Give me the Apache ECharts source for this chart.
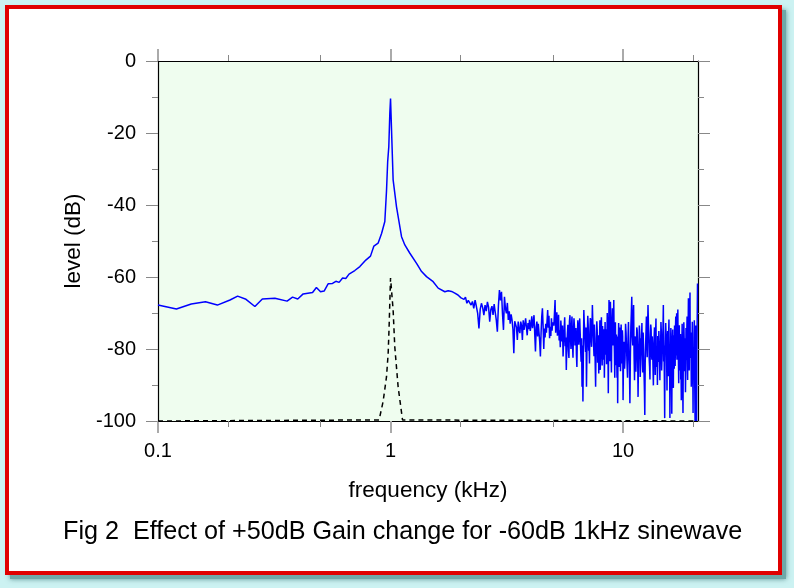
<!DOCTYPE html>
<html>
<head>
<meta charset="utf-8">
<script src="https://cdn.jsdelivr.net/npm/echarts@6/dist/echarts.min.js"></script>
<style>
html,body{margin:0;padding:0;background:#ccf2f2;}
#chart{width:794px;height:588px;}
</style>
</head>
<body>
<div id="chart"></div>
<script>
// ---- data ----
const titleText = 'Fig 2  Effect of +50dB Gain change for -60dB 1kHz sinewave';
const xName = 'frequency (kHz)';
const yName = 'level (dB)';
const xMajorTicks = [0.1, 1, 10];
const xMinorTicks = [0.2, 0.5, 2, 5, 20];

// low-frequency part and the 1 kHz peak (explicit frequency / level pairs)
const peakFreq = [0.100,0.120,0.139,0.160,0.180,0.204,0.220,0.239,0.261,0.281,0.318,0.359,0.379,0.399,0.421,0.462,0.480,0.500,0.518,0.539,0.563,0.582,0.601,0.622,0.642,0.663,0.702,0.738,0.783,0.820,0.848,0.884,0.915,0.945,0.961,0.972,0.983,0.993,1.000,1.010,1.026,1.061,1.115,1.152,1.211,1.294,1.360,1.428,1.525,1.603,1.712,1.770];
const peakLevel = [-67.8,-68.9,-67.5,-66.9,-67.8,-66.4,-65.3,-66.2,-68.2,-66.1,-65.9,-66.7,-65.6,-66.1,-64.7,-64.3,-62.9,-64.1,-63.9,-61.9,-61.8,-61.2,-61.5,-60.3,-60.4,-59.2,-58.2,-57.1,-55.3,-54.2,-51.4,-50.6,-47.9,-44.6,-36.0,-28.0,-23.8,-14.5,-10.4,-19.2,-33.0,-40.5,-48.8,-51.1,-53.4,-56.2,-58.5,-59.9,-61.3,-63.1,-64.1,-63.8];

// FFT bins 1.80 .. 4.98 kHz (bin spacing 0.03 kHz)
const binsA_start = 1.80, binsA_step = 0.03;
const binsA_level = [-63.8,-64.0,-63.6,-64.5,-64.2,-65.0,-64.6,-65.8,-65.3,-66.2,-65.6,-67.3,-66.5,-66.0,-67.8,-66.8,-68.7,-66.4,-68.2,-70.1,-74.3,-69.0,-67.3,-68.5,-70.6,-67.8,-69.5,-66.9,-68.4,-72.4,-69.0,-68.1,-70.5,-67.5,-69.8,-72.0,-75.2,-68.0,-63.6,-66.5,-64.1,-70.2,-74.7,-65.5,-68.8,-70.1,-67.2,-71.9,-69.5,-73.0,-70.4,-71.9,-74.5,-81.2,-72.3,-71.9,-74.0,-77.5,-72.4,-74.8,-75.6,-72.4,-73.5,-77.5,-72.0,-74.7,-73.2,-71.5,-74.0,-76.2,-72.8,-74.5,-71.9,-75.0,-73.3,-70.9,-74.2,-72.6,-70.6,-75.8,-80.7,-74.0,-72.4,-76.5,-73.0,-75.4,-78.0,-82.1,-75.5,-71.0,-68.7,-73.6,-80.0,-74.3,-76.8,-73.0,-75.5,-72.2,-69.2,-74.1,-70.8,-77.0,-73.8,-76.4,-71.5,-74.9,-72.6];

// FFT bins 5.04 .. 9.96 kHz (bin spacing 0.03 kHz)
const binsB_start = 5.04, binsB_step = 0.03;
const binsB_level = [-73.5,-70.0,-66.4,-75.5,-72.0,-69.8,-76.3,-73.0,-70.5,-77.6,-74.8,-79.5,-72.1,-75.0,-77.9,-73.5,-82.1,-78.0,-74.5,-71.2,-79.2,-76.8,-85.8,-79.0,-76.0,-73.3,-80.3,-82.5,-72.4,-70.6,-76.5,-80.0,-74.0,-71.0,-78.6,-82.4,-75.2,-71.5,-73.8,-79.0,-77.4,-74.2,-81.5,-85.0,-76.2,-72.0,-74.0,-78.8,-79.0,-71.5,-75.5,-80.2,-83.5,-77.0,-90.5,-79.0,-94.6,-80.5,-69.2,-72.8,-74.5,-78.5,-80.8,-74.0,-90.5,-81.0,-76.0,-70.8,-73.4,-80.5,-78.5,-84.0,-75.0,-71.4,-72.0,-77.5,-79.4,-74.5,-67.8,-72.6,-75.3,-79.0,-82.0,-73.2,-77.0,-84.5,-90.5,-80.0,-78.5,-72.3,-74.8,-83.8,-80.0,-76.2,-86.8,-79.5,-77.2,-72.0,-85.8,-80.5,-75.0,-71.2,-79.5,-84.6,-73.6,-77.0,-83.0,-74.5,-75.2,-88.0,-78.0,-72.5,-81.6,-77.8,-74.5,-84.2,-79.0,-70.0,-73.8,-80.0,-92.3,-79.2,-66.4,-73.0,-75.8,-83.4,-66.9,-71.0,-80.5,-86.5,-76.0,-73.5,-68.7,-79.0,-78.4,-72.2,-66.4,-77.0,-81.0,-88.0,-77.3,-72.6,-84.5,-79.5,-76.0,-81.8,-88.0,-76.5,-95.1,-80.2,-78.5,-72.8,-75.2,-85.0,-80.8,-74.0,-77.0,-86.2,-83.5,-73.2,-78.0,-84.0,-81.5,-74.8,-76.5];

// FFT bins 10.00 .. 20.90 kHz (bin spacing 0.05 kHz)
const binsC_start = 10.0, binsC_step = 0.05;
const binsC_level = [-94.2,-81.0,-78.0,-85.5,-82.5,-73.0,-75.5,-79.8,-84.0,-88.0,-77.2,-72.5,-80.5,-84.6,-95.1,-82.0,-74.0,-70.2,-65.5,-76.8,-79.0,-72.0,-67.8,-81.5,-88.7,-79.0,-76.5,-86.3,-82.0,-74.0,-74.8,-80.7,-93.3,-83.0,-79.5,-73.5,-76.0,-87.8,-84.2,-77.0,-78.5,-72.8,-81.8,-86.5,-75.4,-80.0,-86.0,-91.0,-98.3,-84.0,-79.0,-75.2,-71.0,-77.8,-82.3,-74.0,-67.8,-72.5,-76.0,-82.7,-84.8,-88.5,-78.2,-73.2,-74.5,-81.0,-83.0,-76.5,-79.6,-85.0,-90.1,-80.4,-77.0,-74.0,-81.5,-87.2,-75.8,-71.5,-85.0,-82.0,-79.3,-90.0,-76.4,-80.8,-83.6,-75.0,-78.0,-84.3,-88.7,-79.5,-80.2,-72.5,-75.0,-86.0,-82.8,-78.8,-77.5,-74.0,-67.8,-83.5,-79.0,-88.0,-99.2,-81.0,-80.5,-72.8,-75.6,-78.6,-84.0,-91.5,-78.3,-75.0,-82.0,-87.6,-76.0,-71.8,-86.5,-80.6,-99.2,-83.5,-80.0,-74.2,-77.0,-88.4,-98.0,-82.0,-79.5,-74.6,-83.3,-90.8,-76.2,-79.3,-85.5,-73.5,-79.0,-84.7,-74.5,-71.0,-81.8,-77.4,-70.1,-83.0,-78.4,-74.5,-69.0,-80.2,-83.0,-89.5,-77.6,-73.4,-86.0,-81.0,-80.4,-75.8,-88.5,-84.0,-94.2,-86.5,-79.0,-73.0,-84.5,-90.0,-97.8,-82.4,-80.0,-72.6,-76.5,-86.2,-82.6,-77.0,-78.0,-92.0,-85.5,-74.2,-79.2,-83.0,-75.0,-71.0,-83.4,-88.6,-77.0,-73.0,-65.9,-79.5,-80.8,-86.0,-76.3,-70.5,-64.3,-82.5,-82.0,-75.4,-78.5,-90.5,-86.8,-78.0,-79.0,-72.4,-84.0,-88.0,-97.8,-80.0,-80.5,-85.6,-76.0,-72.0,-83.5,-92.5,-100.0,-78.0,-79.0,-73.5,-85.0,-94.0,-100.0,-82.0,-76.0,-70.0,-61.8];

// input sinewave (-60 dB at 1 kHz), dashed
const sineFreq = [0.1, 0.893, 0.929, 0.961, 0.977, 0.986, 1.0, 1.026, 1.043, 1.078, 1.126, 20.9];
const sineLevel = [-100, -99.7, -94.6, -87.7, -81.1, -73.8, -60.3, -69.2, -79.4, -90.5, -99.7, -100];

// ---- build series data ----
const outData = [];
peakFreq.forEach((f, i) => outData.push([f, peakLevel[i]]));
[[binsA_start, binsA_step, binsA_level], [binsB_start, binsB_step, binsB_level], [binsC_start, binsC_step, binsC_level]]
  .forEach(([s, st, lv]) => lv.forEach((v, i) => outData.push([+(s + i * st).toFixed(3), v])));
const sineData = sineFreq.map((f, i) => [f, sineLevel[i]]);

const FONT = '"Liberation Sans", Arial, Helvetica, sans-serif';
const chart = echarts.init(document.getElementById('chart'), null, {renderer: 'canvas'});

function xAxisDef(pos, major, withLabel, withName) {
  return {
    type: 'log', logBase: 10, min: 0.1, max: 21, position: pos,
    gridIndex: 0,
    axisLine: {show: major, onZero: false, lineStyle: {color: '#000', width: 1.2}},
    axisTick: {show: true, inside: false, customValues: major ? xMajorTicks : xMinorTicks,
      length: major ? 12 : 6,
      lineStyle: {color: major ? '#aaaaaa' : '#888888', width: major ? 2 : 1}},
    axisLabel: {show: withLabel, customValues: xMajorTicks, margin: 20, fontSize: 20,
      color: '#000', fontFamily: FONT, formatter: v => String(v)},
    splitLine: {show: false}, minorTick: {show: false}, minorSplitLine: {show: false},
    name: withName ? xName : '', nameLocation: 'middle', nameGap: 58,
    nameTextStyle: {fontSize: 22.5, color: '#000', fontFamily: FONT}
  };
}
function yAxisDef(pos, withLabel) {
  return {
    type: 'value', min: -100, max: 0, interval: 20, position: pos,
    axisLine: {show: true, onZero: false, lineStyle: {color: '#000', width: 1.2}},
    axisTick: {show: true, length: 12, lineStyle: {color: '#888888', width: 1}},
    minorTick: {show: true, splitNumber: 2, length: 6, lineStyle: {color: '#888888', width: 1}},
    axisLabel: {show: withLabel, margin: 22, fontSize: 20, color: '#000', fontFamily: FONT},
    splitLine: {show: false},
    name: withLabel ? yName : '', nameLocation: 'middle', nameGap: 73, nameRotate: 90,
    nameTextStyle: {fontSize: 22.5, color: '#000', fontFamily: FONT}
  };
}

const option = {
  animation: false,
  backgroundColor: 'transparent',
  title: {
    text: titleText, left: 58, top: 515,
    textStyle: {fontSize: 25.2, fontWeight: 'normal', color: '#000', fontFamily: FONT}
  },
  graphic: [
    {type: 'rect', z: -20, silent: true, shape: {x: 0, y: 0, width: 794, height: 588}, style: {fill: '#ccf2f2'}},
    {type: 'rect', z: -19, silent: true, shape: {x: 10, y: 10, width: 776, height: 569},
      style: {fill: '#6fa8a8', shadowBlur: 5, shadowColor: 'rgba(60,120,120,0.8)'}},
    {type: 'rect', z: -18, silent: true, shape: {x: 7, y: 7, width: 773, height: 566},
      style: {fill: '#ffffff', stroke: '#e00000', lineWidth: 4}}
  ],
  grid: {left: 158, top: 61, right: 96, bottom: 167, show: true,
    backgroundColor: '#effdef', borderWidth: 0, containLabel: false},
  xAxis: [
    xAxisDef('bottom', true, true, true),
    xAxisDef('bottom', false, false, false),
    xAxisDef('top', true, false, false),
    xAxisDef('top', false, false, false)
  ],
  yAxis: [yAxisDef('left', true), yAxisDef('right', false)],
  series: [
    {type: 'line', xAxisIndex: 0, yAxisIndex: 0, data: sineData, symbol: 'none', clip: false,
      lineStyle: {color: '#000', width: 1.5, type: [5, 4]}, z: 3},
    {type: 'line', xAxisIndex: 0, yAxisIndex: 0, data: outData, symbol: 'none', clip: true,
      lineStyle: {color: '#0000ff', width: 1.5}, z: 4}
  ]
};
chart.setOption(option);
</script>
</body>
</html>
